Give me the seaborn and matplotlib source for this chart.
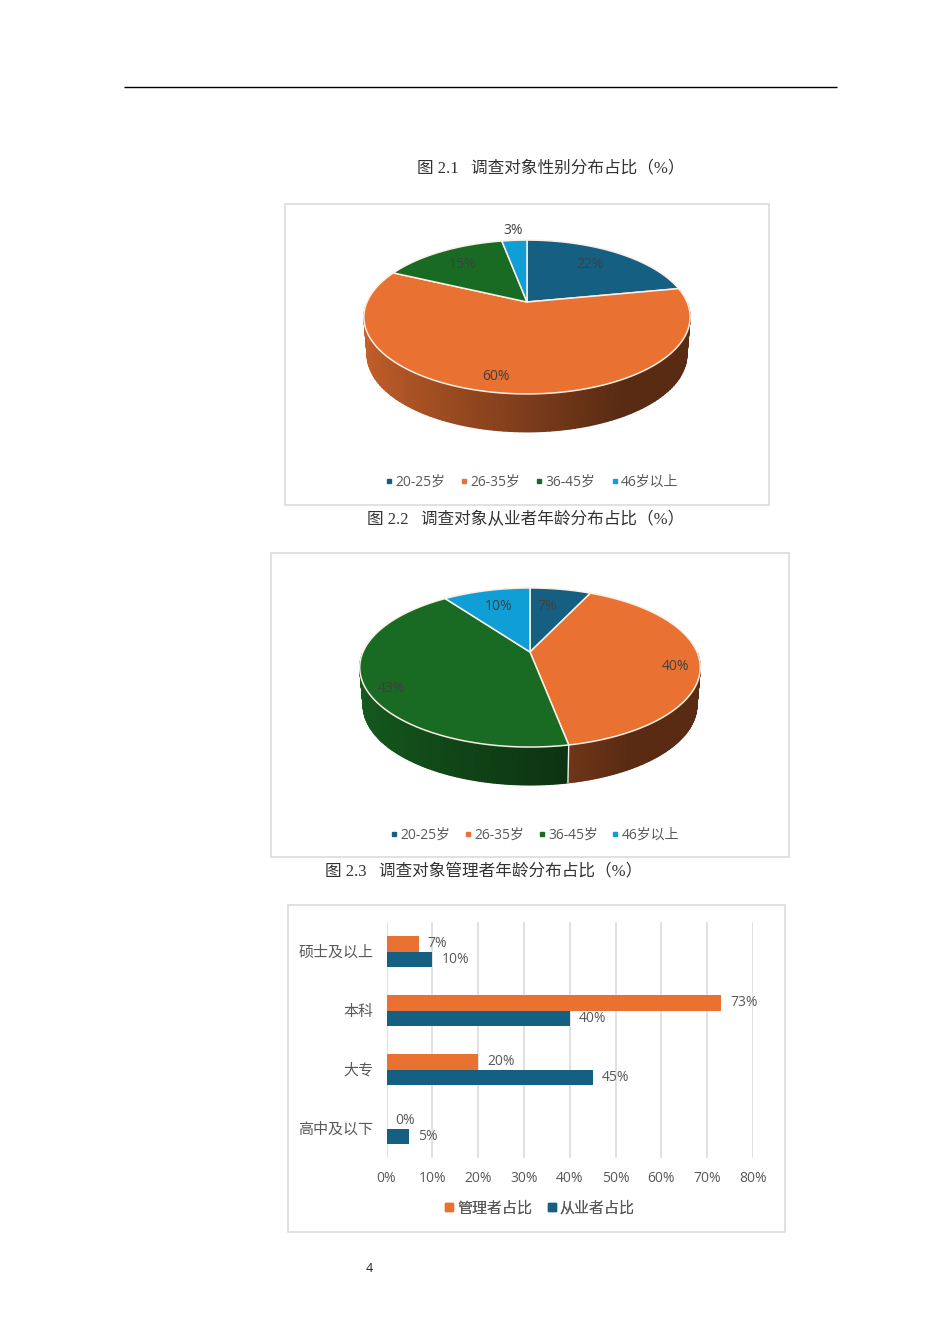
import numpy as np
import pandas as pd
import matplotlib
matplotlib.use("Agg")
import matplotlib.pyplot as plt
from matplotlib.lines import Line2D
from matplotlib.patches import Polygon, Rectangle
from matplotlib.ticker import PercentFormatter
import seaborn as sns

# data
age_labels = ["20-25岁", "26-35岁", "36-45岁", "46岁以上"]
staff_age = [22, 60, 15, 3]
manager_age = [7, 40, 43, 10]
edu_labels = ["硕士及以上", "本科", "大专", "高中及以下"]
manager_edu = [7, 73, 20, 0]
staff_edu = [10, 40, 45, 5]
captions = ["图 2.1   调查对象性别分布占比（%）",
            "图 2.2   调查对象从业者年龄分布占比（%）",
            "图 2.3   调查对象管理者年龄分布占比（%）"]
x_ticks = [0, 10, 20, 30, 40, 50, 60, 70, 80]

# layout, in page pixels
W, H = 950, 1344
PIE_1 = dict(cx=527, cy=302, b=160, a=74, k=0.195, depth=38)
PIE_2 = dict(cx=530, cy=652, b=167, a=76.5, k=0.195, depth=38)
PIE_1_LABELS = [(590, 265), (496, 377), (463, 265), (513, 231)]
PIE_2_LABELS = [(547, 606), (676, 666), (391, 688), (499, 606)]

sns.set_theme(style="white")
plt.rcParams["font.family"] = ["Open Sans", "Noto Sans CJK SC", "DejaVu Sans"]
plt.rcParams["axes.unicode_minus"] = False
CAPTION_FONT = ["Liberation Serif", "Noto Sans CJK SC"]

palette = sns.color_palette(["#156082", "#E97132", "#196B24", "#0F9ED5"])
TEXT = "#595959"
FRAME = "#D9D9D9"


def project(theta, r, g):
    # tilted disc: clockwise angle from the top to page pixels
    x = r * np.sin(theta)
    y = r * np.cos(theta)
    den = 1 + g["k"] * y
    return g["cx"] + g["b"] * x / den, g["cy"] - g["a"] * y / den


def wall_bottom(x, y, g):
    # lower rim sits a little further away, so it is slightly narrower
    return g["cx"] + (x - g["cx"]) * 0.98, y + g["depth"]


def shade(color, theta):
    # side wall gets darker from left to right
    t = (np.sin(theta) + 1) / 2
    f = np.where(t < 0.75, 0.85 - 0.47 * t / 0.75, 0.38)
    return np.outer(f, np.array(color))


def draw_pie(ax, values, g, label_pos):
    edges = np.radians(np.cumsum([0] + list(values)) * 3.6)

    # side wall
    for i in range(len(values)):
        t0, t1 = max(edges[i], np.pi / 2), min(edges[i + 1], 3 * np.pi / 2)
        if t0 >= t1:
            continue
        th = np.linspace(t0, t1, 120)
        xs, ys = project(th, 1, g)
        xb, yb = wall_bottom(xs, ys, g)
        rgb = shade(palette[i], th)
        ax.pcolormesh(np.vstack([xs, xb]), np.vstack([ys, yb]), np.stack([rgb, rgb]),
                      shading="gouraud", zorder=2)
    for e in edges[:-1]:
        if np.pi / 2 < e < 3 * np.pi / 2:
            x0, y0 = project(e, 1, g)
            x1, y1 = wall_bottom(x0, y0, g)
            ax.plot([x0, x1], [y0, y1], color="#F4F0EA", lw=1, zorder=3)

    # top of the pie
    for i in range(len(values)):
        th = np.linspace(edges[i], edges[i + 1], 200)
        xs, ys = project(th, 1, g)
        pts = [(g["cx"], g["cy"])] + list(zip(xs, ys))
        ax.add_patch(Polygon(pts, closed=True, facecolor=palette[i], edgecolor="#FBEFE6",
                             lw=1.1, joinstyle="round", zorder=4))

    for v, (lx, ly) in zip(values, label_pos):
        ax.text(lx, ly, f"{v}%", ha="center", va="center", fontsize=10, color="#404040", zorder=5)


def add_legend(ax, labels, colors, center, columnspacing, fontsize, ms, textpad=0.4):
    handles = [Line2D([], [], ls="none", marker="s", ms=ms, color=c) for c in colors]
    leg = ax.legend(handles, labels, loc="center", bbox_to_anchor=center, bbox_transform=ax.transData,
                    ncol=len(labels), frameon=False, fontsize=fontsize, labelcolor=TEXT,
                    handlelength=0.6, handletextpad=textpad, columnspacing=columnspacing, borderpad=0)
    return leg


fig = plt.figure(figsize=(W / 100, H / 100), dpi=100, facecolor="white")
page = fig.add_axes([0, 0, 1, 1])
page.set_xlim(0, W)
page.set_ylim(H, 0)
page.axis("off")

# page furniture
page.plot([124, 837], [87, 87], color="black", lw=1.0, solid_capstyle="butt")
page.text(417, 168, captions[0], fontsize=12, family=CAPTION_FONT, color="#333333", ha="left", va="center")
page.text(367, 520, captions[1], fontsize=12, family=CAPTION_FONT, color="#333333", ha="left", va="center")
page.text(325, 871, captions[2], fontsize=12, family=CAPTION_FONT, color="#333333", ha="left", va="center")
page.text(369, 1268, "4", fontsize=9, color="#222222", ha="center", va="center")

for x0, y0, x1, y1 in [(284.5, 204, 768.5, 505), (270.5, 553, 788.5, 857), (287.5, 905, 784.5, 1232)]:
    page.add_patch(Rectangle((x0, y0), x1 - x0, y1 - y0, fill=False, edgecolor=FRAME, lw=1.1))

draw_pie(page, staff_age, PIE_1, PIE_1_LABELS)
draw_pie(page, manager_age, PIE_2, PIE_2_LABELS)
page.set_xlim(0, W)
page.set_ylim(H, 0)

leg1 = add_legend(page, age_labels, palette, (531.5, 482), 1.08, 10, 3.5, textpad=0.15)
page.add_artist(leg1)
leg2 = add_legend(page, age_labels, palette, (534.5, 835), 0.97, 10, 3.5, textpad=0.15)
page.add_artist(leg2)
leg3 = add_legend(page, ["管理者占比", "从业者占比"], [palette[1], palette[0]], (539.5, 1209), 1.0, 10.8, 6, textpad=0.25)
page.add_artist(leg3)

# bar chart
left, right = 386.5, 753
top, bottom = 922, 1158
bar_ax = fig.add_axes([left / W, 1 - bottom / H, (right - left) / W, (bottom - top) / H])
bar_ax.patch.set_alpha(0)

edu_df = pd.DataFrame({
    "level": edu_labels * 2,
    "share": manager_edu + staff_edu,
    "group": ["管理者占比"] * 4 + ["从业者占比"] * 4,
})
sns.barplot(data=edu_df, y="level", x="share", hue="group", hue_order=["管理者占比", "从业者占比"],
            palette=[palette[1], palette[0]], saturation=1, width=0.53, gap=0, linewidth=0,
            legend=False, ax=bar_ax, zorder=3)
for cont in bar_ax.containers:
    bar_ax.bar_label(cont, fmt="%g%%", padding=6.5, fontsize=10, color=TEXT)

bar_ax.set_xlim(0, 80)
bar_ax.set_xticks(x_ticks)
bar_ax.xaxis.set_major_formatter(PercentFormatter(decimals=0))
bar_ax.set_xlabel("")
bar_ax.set_ylabel("")
bar_ax.grid(axis="x", color=FRAME, lw=1.1, zorder=0)
bar_ax.set_axisbelow(True)
bar_ax.tick_params(axis="x", length=0, pad=9, labelsize=10, labelcolor=TEXT)
bar_ax.tick_params(axis="y", length=0, pad=9.5, labelsize=10.8, labelcolor=TEXT)
sns.despine(ax=bar_ax, left=True, right=True, top=True, bottom=True)

fig.savefig("out.png", dpi=100)
